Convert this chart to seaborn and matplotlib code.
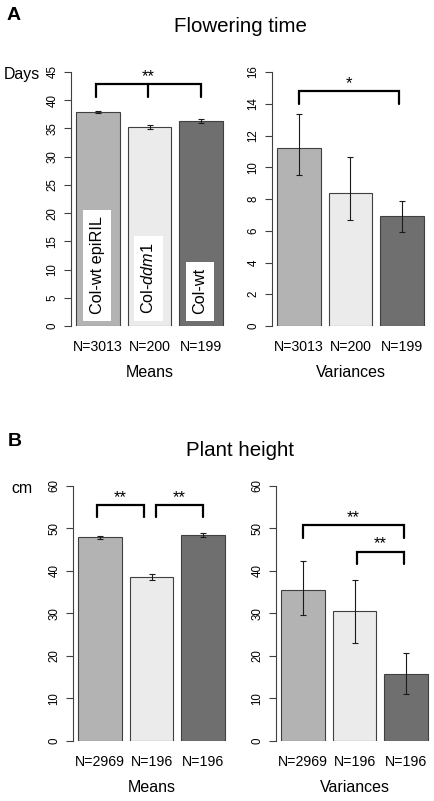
import matplotlib
matplotlib.use("Agg")
import matplotlib.pyplot as plt
import seaborn as sns
import pandas as pd

# ---------------- data ----------------
genotypes = ["Col-wt epiRIL", "Col-ddm1", "Col-wt"]
bar_colors = ["#B3B3B3", "#EBEBEB", "#6F6F6F"]

flower_n = ["N=3013", "N=200", "N=199"]
flower_means = [37.9, 35.3, 36.3]
flower_means_lo = [37.7, 34.95, 36.0]
flower_means_hi = [38.1, 35.65, 36.6]
flower_vars = [11.2, 8.4, 6.9]
flower_vars_lo = [9.5, 6.65, 5.9]
flower_vars_hi = [13.35, 10.65, 7.9]

height_n = ["N=2969", "N=196", "N=196"]
height_means = [47.85, 38.45, 48.4]
height_means_lo = [47.5, 37.7, 47.9]
height_means_hi = [48.2, 39.2, 48.9]
height_vars = [35.45, 30.6, 15.7]
height_vars_lo = [29.65, 23.05, 11.0]
height_vars_hi = [42.35, 37.8, 20.6]

flower_mean_ticks = list(range(0, 46, 5))
flower_var_ticks = list(range(0, 17, 2))
height_ticks = list(range(0, 61, 10))

# significance brackets: (x_left, x_right, y_top, y_drop, label, middle_tick)
flower_mean_brackets = [(-0.05, 2.0, 42.9, 40.6, "**", 0.97)]
flower_var_brackets = [(0.0, 1.95, 14.8, 14.0, "*", None)]
height_mean_brackets = [(-0.07, 0.85, 55.5, 52.6, "**", None),
                        (1.09, 2.0, 55.5, 52.6, "**", None)]
height_var_brackets = [(0.0, 1.96, 50.75, 47.8, "**", None),
                       (1.04, 1.96, 44.5, 41.5, "**", None)]

# ---------------- style ----------------
sns.set_style("white", rc={"text.color": "black", "axes.labelcolor": "black",
                           "xtick.color": "black", "ytick.color": "black"})
plt.rcParams["font.family"] = ["Liberation Sans", "DejaVu Sans"]
plt.rcParams["mathtext.fontset"] = "custom"
plt.rcParams["mathtext.rm"] = "Liberation Sans"
plt.rcParams["mathtext.it"] = "Liberation Sans:italic"

W, H = 434, 801
fig = plt.figure(figsize=(W / 100, H / 100), dpi=100)

AXC = "#404040"


def make_axes(x0, ybot, ytop, xspan=157):
    return fig.add_axes([x0 / W, 1 - ybot / H, xspan / W, (ybot - ytop) / H])


def panel(ax, vals, lo, hi, ticks, nlabels, xlabel, brackets):
    df = pd.DataFrame({"g": genotypes, "v": vals})
    sns.barplot(data=df, x="g", y="v", hue="g", palette=bar_colors,
                width=0.85, edgecolor="#404040", linewidth=0.8,
                errorbar=None, legend=False, ax=ax)
    xs = list(range(len(vals)))
    yerr = [[v - l for v, l in zip(vals, lo)], [h - v for v, h in zip(vals, hi)]]
    ax.errorbar(xs, vals, yerr=yerr, fmt="none", ecolor="#1a1a1a",
                elinewidth=0.8, capsize=2.0, capthick=0.8)
    ax.set_xlim(-0.53, 2.53)
    ax.set_ylim(ticks[0], ticks[-1])
    ax.set_yticks(ticks)
    ax.set_yticklabels([str(t) for t in ticks], rotation=90, va="center",
                       fontsize=8.3, color="black")
    ax.tick_params(axis="y", length=5, width=0.8, color=AXC, pad=4, left=True)
    ax.set_xticks(xs)
    ax.set_xticklabels(nlabels, fontsize=10.2, color="black")
    ax.tick_params(axis="x", length=0, pad=10)
    ax.set_xlabel(xlabel, fontsize=11.5, labelpad=8, color="black")
    ax.set_ylabel("")
    for s in ["top", "right", "bottom"]:
        ax.spines[s].set_visible(False)
    ax.spines["left"].set_color(AXC)
    ax.spines["left"].set_linewidth(0.8)
    for (xl, xr, yt, yd, lab, xm) in brackets:
        ax.plot([xl, xl, xr, xr], [yd, yt, yt, yd], color="black", lw=1.6,
                solid_joinstyle="miter", clip_on=False)
        if xm is not None:
            ax.plot([xm, xm], [yt, yd], color="black", lw=1.6, clip_on=False)
        ax.text((xl + xr) / 2, yt, lab, ha="center", va="bottom",
                fontsize=12, color="black", clip_on=False)


# Panel A
axA1 = make_axes(71, 326, 72)
panel(axA1, flower_means, flower_means_lo, flower_means_hi, flower_mean_ticks,
      flower_n, "Means", flower_mean_brackets)
axA2 = make_axes(272, 326, 72)
panel(axA2, flower_vars, flower_vars_lo, flower_vars_hi, flower_var_ticks,
      flower_n, "Variances", flower_var_brackets)

# labels inside bars
bar_texts = ["Col-wt epiRIL", r"Col-$\mathit{ddm1}$", "Col-wt"]
for i, t in enumerate(bar_texts):
    axA1.text(i - 0.02, 2.1, t, rotation=90, ha="center", va="bottom",
              fontsize=11.7, color="black",
              bbox=dict(boxstyle="square,pad=0.4", fc="white", ec="none"))

# Panel B
axB1 = make_axes(73, 740.7, 485.7)
panel(axB1, height_means, height_means_lo, height_means_hi, height_ticks,
      height_n, "Means", height_mean_brackets)
axB2 = make_axes(276, 740.7, 485.7)
panel(axB2, height_vars, height_vars_lo, height_vars_hi, height_ticks,
      height_n, "Variances", height_var_brackets)

# figure texts
def ftext(x, y, s, **kw):
    fig.text(x / W, 1 - y / H, s, ha="center", va="center", color="black", **kw)

ftext(14, 15, "A", fontsize=14, fontweight="bold")
ftext(14.5, 441, "B", fontsize=14, fontweight="bold")
ftext(240, 27, "Flowering time", fontsize=14.8)
ftext(240, 450, "Plant height", fontsize=14.8)
ftext(21.5, 74, "Days", fontsize=11.4)
ftext(22, 488, "cm", fontsize=11.4)

fig.savefig("out.png", dpi=100)
